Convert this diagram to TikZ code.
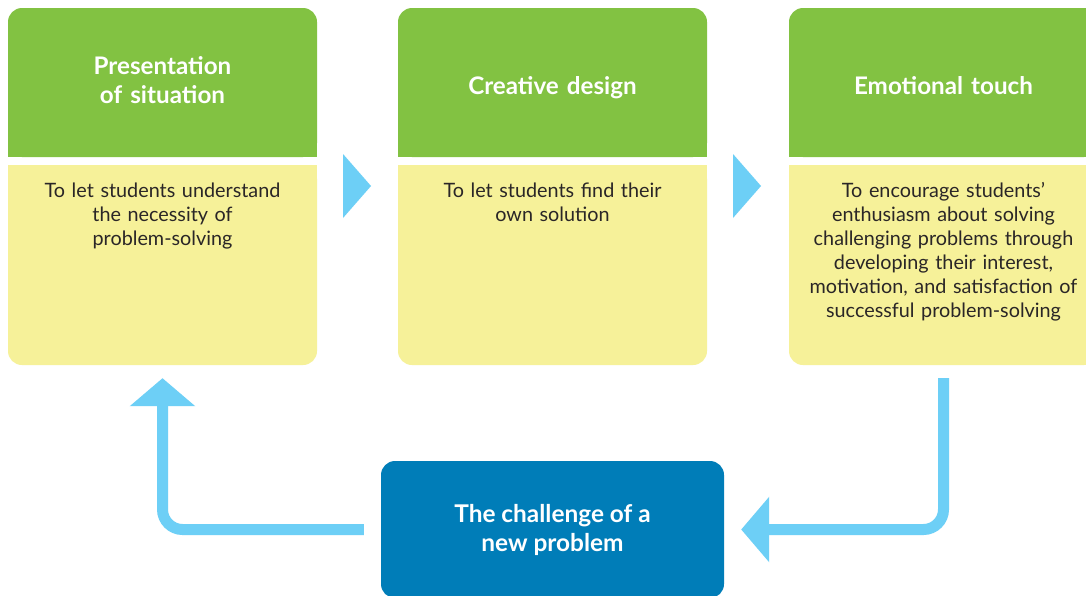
\documentclass[tikz,border=0pt]{standalone}
\usepackage{fontspec}
\setmainfont{Lato}
\usetikzlibrary{arrows.meta}
\definecolor{hgreen}{HTML}{82C242}
\definecolor{byellow}{HTML}{F6F199}
\definecolor{lblue}{HTML}{6DCFF6}
\definecolor{dblue}{HTML}{007DB8}
\definecolor{btext}{HTML}{2A2627}
\tikzset{
  headbox/.style={fill=hgreen, rounded corners=14pt, minimum width=309pt, minimum height=149pt, inner sep=0pt},
  bodybox/.style={fill=byellow, rounded corners=14pt, minimum width=309pt, minimum height=200pt, inner sep=0pt},
  headtxt/.style={text=white, font=\fontsize{24.2}{29}\selectfont\bfseries, align=center, text width=305pt, inner sep=0pt, anchor=base},
  bodytxt/.style={text=btext, font=\fontsize{19.8}{24}\selectfont, align=center, text width=305pt, inner sep=0pt, anchor=base},
  bottombox/.style={fill=dblue, rounded corners=14pt, minimum width=343pt, minimum height=137pt, text=white, font=\fontsize{24.4}{29}\selectfont\bfseries, align=center, inner sep=0pt},
  conn/.style={draw=lblue, line width=11pt, rounded corners=20pt, -{Triangle[width=64pt,length=28pt]}},
  stepmark/.style={fill=lblue}
}
\begin{document}
\begin{tikzpicture}[x=1pt,y=-1pt]
\clip (0,0) rectangle (1086,595);
\fill[white] (0,0) rectangle (1086,595);
% step boxes
\foreach \c/\i in {162.5/1, 552.5/2, 943.5/3} {
  \node[headbox] (h\i) at (\c,82.5) {};
  \fill[hgreen] ([yshift=20pt]h\i.south west) rectangle (h\i.south east);
  \node[bodybox] (b\i) at (\c,265) {};
  \fill[byellow] (b\i.north west) rectangle ([yshift=-20pt]b\i.north east);
}
% header texts
\node[headtxt] (t1) at (162.5,74) {Presentation\\of situation};
\node[headtxt] (t2) at (552.5,94) {Creative design};
\node[headtxt] (t3) at (943.5,94) {Emotional touch};
% body texts
\node[bodytxt] (d1) at (162.5,197) {To let students understand\\the necessity of\\problem-solving};
\node[bodytxt] (d2) at (552.5,197) {To let students find their\\own solution};
\node[bodytxt] (d3) at (943.5,197) {To encourage students’\\enthusiasm about solving\\challenging problems through\\developing their interest,\\motivation, and satisfaction of\\successful problem-solving};
% step triangles
\fill[stepmark] (343,154) -- (371,186) -- (343,218) -- cycle;
\fill[stepmark] (733,154) -- (761,186) -- (733,218) -- cycle;
% bottom box
\node[bottombox] (nb) at (552.5,529.5) {The challenge of a\\new problem};
% connectors
\draw[conn] ([xshift=-17pt]nb.west) -| ([yshift=-13pt]b1.south);
\draw[conn] ([yshift=-13pt]b3.south) |- ([xshift=17pt]nb.east);
\end{tikzpicture}
\end{document}
